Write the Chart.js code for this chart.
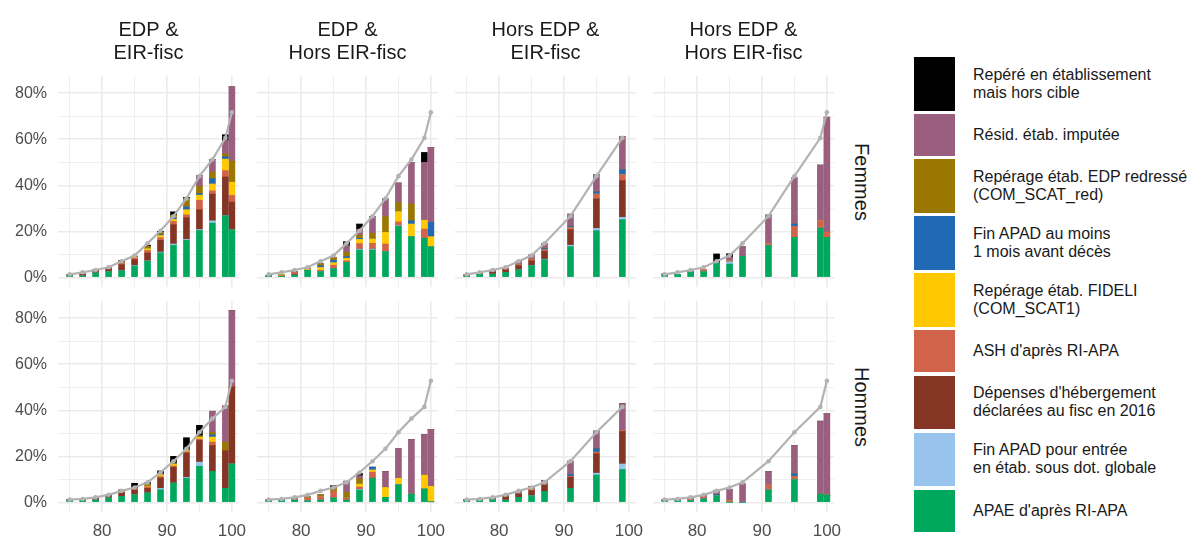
<!DOCTYPE html>
<html>
<head>
<meta charset="utf-8">
<script src="https://cdn.jsdelivr.net/npm/chart.js@4.4.1/dist/chart.umd.min.js"></script>
<style>
    body { margin: 0; background: #fff; width: 1198px; height: 541px; overflow: hidden; position: relative;
           font-family: "Liberation Sans", Arial, sans-serif; }
    canvas { position: absolute; }
    .strip { position: absolute; writing-mode: vertical-rl; font-size: 20px; color: #1a1a1a;
             transform: translate(-50%, -50%); white-space: nowrap; }
    #legende { position: absolute; left: 914px; top: 57px; display: flex; flex-direction: column; gap: 3.3px; }
    .item { display: flex; align-items: center; }
    .cle { width: 41px; }
    .lib { margin-left: 18px; font-size: 16px; line-height: 18px; white-space: pre-line; color: #1a1a1a; }
</style>
</head>
<body>
<div id="legende"></div>
<script>
// Catégories, de bas en haut de la pile
const categories = [
    "APAE d'après RI-APA",
    "Fin APAD pour entrée\nen étab. sous dot. globale",
    "Dépenses d'hébergement\ndéclarées au fisc en 2016",
    "ASH d'après RI-APA",
    "Repérage étab. FIDELI\n(COM_SCAT1)",
    "Fin APAD au moins\n1 mois avant décès",
    "Repérage étab. EDP redressé\n(COM_SCAT_red)",
    "Résid. étab. imputée",
    "Repéré en établissement\nmais hors cible"
];
const couleurs = ['#00A85E', '#98C3EC', '#843524', '#D0634A', '#FFC800', '#1F69B5', '#9A7700', '#9A5E7E', '#000000'];

const colonnes = [['EDP &', 'EIR-fisc'], ['EDP &', 'Hors EIR-fisc'], ['Hors EDP &', 'EIR-fisc'], ['Hors EDP &', 'Hors EIR-fisc']];
const sexes = ['Femmes', 'Hommes'];

const agesEdp = [75, 77, 79, 81, 83, 85, 87, 89, 91, 93, 95, 97, 99, 100];
const agesHorsEir = [75, 77, 79, 81, 83, 85, 87, 91, 95, 99];
const agesHors = [75, 77, 79, 81, 83, 85, 87, 91, 95, 99, 100];

// courbe de référence (%), aux âges de agesEdp
const refFemmes = [1.3, 2.2, 3.2, 4.4, 7.0, 9.5, 14.8, 20.3, 26.6, 34.3, 44.0, 51.2, 60.6, 71.7];
const refHommes = [1.2, 1.5, 2.2, 3.3, 5.0, 6.5, 8.7, 13.0, 17.9, 23.3, 30.5, 36.4, 41.5, 52.8];

// graduations (lignes de grille) et libellés affichés
const xGraduations = [75, 80, 85, 90, 95, 100];
const yGraduations = [0, 10, 20, 30, 40, 50, 60, 70, 80];
const xTicksLabels = [80, 90, 100];
const yTicksLabels = [0, 20, 40, 60, 80];

// parts en %, une ligne par catégorie (même ordre que categories)
const femEdpEir = [
    [0.8, 0.6, 1.9, 2.5, 2.9, 5.0, 7.0, 10.7, 13.9, 16.1, 20.4, 23.6, 26.8, 20.7],
    [0, 0, 0, 0, 0, 0.2, 0.2, 0.3, 0.6, 0.4, 0.4, 1.0, 0, 0],
    [0.3, 0.8, 1.3, 1.1, 2.6, 2.5, 3.4, 5.1, 8.4, 9.4, 8.6, 11.6, 16.8, 12.0],
    [0, 0, 0, 0.5, 0.7, 0.7, 1.1, 1.1, 1.4, 1.3, 4.1, 1.4, 2.8, 2.9],
    [0, 0, 0, 0, 0, 0.3, 0.8, 1.0, 0.9, 2.2, 2.2, 3.0, 5.0, 5.8],
    [0, 0, 0, 0, 0, 0, 0, 0.4, 0.7, 1.2, 0.7, 2.3, 1.0, 0],
    [0, 0, 0, 0, 0.5, 0.5, 1.0, 1.0, 1.1, 3.6, 3.2, 2.8, 1.3, 9.1],
    [0, 0, 0, 0, 0, 0, 0, 0, 0, 0, 4.7, 5.6, 5.8, 32.3],
    [0, 0, 0, 0, 0.6, 0, 0.5, 0.4, 1.5, 0.6, 0, 0, 2.5, 0]
];
const femEdpHorsEir = [
    [0.6, 0.5, 1.0, 3.1, 2.5, 3.8, 6.5, 11.9, 11.9, 11.2, 22.2, 17.7, 17.0, 13.3],
    [0, 0, 0, 0, 0, 0, 0, 0.4, 0.4, 0, 0.3, 0, 0, 0],
    [0, 0, 0.4, 0, 0, 0, 0, 0, 0, 0, 0, 0, 0, 0],
    [0.3, 0.3, 0.8, 0, 0.6, 1.5, 0.7, 2.4, 2.5, 3.3, 1.6, 0, 4.0, 0],
    [0, 0.4, 0, 0.4, 1.2, 1.1, 1.1, 1.8, 1.9, 5.1, 4.5, 5.5, 3.9, 4.4],
    [0, 0, 0, 0, 0.7, 1.0, 0.7, 0.5, 0, 0, 0, 1.4, 0, 6.2],
    [0, 0, 0.3, 0.5, 1.0, 1.2, 1.9, 1.4, 2.5, 6.8, 4.0, 7.3, 0, 0],
    [0, 0, 0, 0, 0, 0, 2.9, 2.5, 7.2, 7.7, 8.4, 18.1, 25.1, 32.6],
    [0, 0, 0, 0, 0, 0, 1.8, 2.3, 0, 0, 0, 0, 4.3, 0]
];
const femHorsEdpEir = [
    [0.6, 1.4, 1.4, 2.2, 3.3, 5.1, 7.7, 13.4, 20.3, 25.1],
    [0, 0, 0, 0, 0, 0, 0.2, 0.6, 1.0, 1.0],
    [0, 0.2, 1.0, 1.1, 1.8, 2.1, 3.4, 6.7, 12.8, 15.9],
    [0.5, 0, 0, 0, 0.3, 0.6, 0.6, 0.9, 2.1, 2.6],
    [0, 0, 0, 0, 0, 0, 0, 0, 0, 0],
    [0, 0, 0, 0, 0, 0, 0.6, 0.6, 1.0, 2.2],
    [0, 0, 0, 0, 0, 0, 0, 0, 0, 0],
    [0, 0, 0.7, 0.7, 1.6, 1.9, 2.3, 5.3, 7.4, 14.4],
    [0, 0, 0, 0, 0, 0, 0, 0, 0, 0]
];
const femHorsEdpHorsEir = [
    [1.3, 1.3, 2.4, 2.5, 6.2, 5.8, 9.1, 13.8, 17.4, 21.4, 17.4],
    [0, 0, 0, 0, 0, 1.0, 0, 0, 0, 0, 0],
    [0, 0, 0, 0, 0, 0, 0, 0, 0, 0, 0],
    [0, 0, 0.3, 0.8, 0, 0.4, 0, 0.8, 4.8, 3.2, 2.2],
    [0, 0, 0, 0, 0, 0, 0, 0, 0, 0, 0],
    [0, 0, 0, 0, 0, 0, 0, 0, 1.0, 0, 0],
    [0, 0, 0, 0, 0, 0, 0, 0, 0, 0, 0],
    [0.2, 0, 0, 0, 0, 1.5, 4.2, 12.5, 20.0, 24.2, 50.0],
    [0, 0, 0, 0, 4.0, 1.6, 0, 0, 0, 0, 0]
];
const homEdpEir = [
    [1.0, 1.2, 1.0, 1.9, 2.6, 3.3, 4.1, 5.5, 8.4, 10.5, 15.7, 13.5, 6.1, 16.7],
    [0, 0, 0, 0, 0, 0, 0, 0.6, 0, 0.4, 1.8, 0, 0, 0],
    [0.2, 0.2, 1.2, 1.3, 1.8, 2.1, 2.0, 4.5, 6.8, 10.6, 9.4, 11.2, 16.4, 33.5],
    [0, 0, 0, 0.3, 0.4, 0.6, 0.7, 0.6, 0.6, 0.4, 0.6, 1.5, 0, 0],
    [0, 0, 0, 0, 0, 0, 0.3, 0.8, 0.8, 0.5, 0.8, 2.2, 0, 0],
    [0, 0, 0, 0, 0, 0, 0, 0, 0, 0, 0, 1.0, 0, 0],
    [0, 0, 0, 0, 0, 0, 0.9, 0.3, 0.3, 0.5, 0.6, 1.1, 3.7, 0],
    [0, 0, 0, 0, 0, 0, 0, 0, 0, 0, 0, 9.1, 15.7, 33.1],
    [0, 0, 0, 0, 0.6, 2.3, 0.7, 1.4, 3.1, 5.2, 4.6, 0, 0, 0]
];
const homEdpHorsEir = [
    [0.8, 1.2, 1.0, 0.7, 1.0, 1.9, 1.0, 5.4, 10.5, 2.2, 7.7, 3.6, 5.8, 0.3],
    [0, 0, 0, 0, 0, 0, 0, 0.3, 0, 0, 0, 0, 0, 0],
    [0, 0, 0, 0, 0, 0, 0, 0, 0, 0, 0, 0, 0, 0],
    [0.4, 0, 0.5, 1.2, 1.5, 3.0, 0.9, 1.0, 2.6, 0, 0, 0, 0, 0],
    [0, 0, 0, 0, 0, 0, 0, 1.3, 1.0, 4.3, 2.8, 0, 6.1, 6.7],
    [0, 0, 0, 0, 0, 0, 0, 0, 1.2, 0, 0, 0, 0, 0],
    [0, 0, 0, 0.5, 0.8, 1.5, 2.5, 2.2, 0, 0, 0, 0, 0, 0],
    [0, 0, 0, 0, 0, 0.3, 4.8, 1.4, 0, 6.9, 12.8, 23.7, 17.5, 24.7],
    [0, 0, 0, 0, 0, 0.6, 0, 1.0, 0, 0, 0, 0, 0, 0]
];
const homHorsEdpEir = [
    [1.0, 1.0, 1.2, 1.0, 2.2, 2.9, 4.8, 6.1, 11.9, 14.3],
    [0, 0, 0, 0, 0, 0, 0, 0, 0.8, 2.4],
    [0, 0.2, 0.4, 1.5, 1.4, 2.2, 2.9, 4.8, 8.4, 14.1],
    [0, 0, 0, 0, 0, 0.4, 0.6, 0.4, 0.7, 0.5],
    [0, 0, 0, 0, 0, 0, 0, 0, 0, 0],
    [0, 0, 0, 0, 0, 0, 0, 0.8, 1.5, 0],
    [0, 0, 0, 0, 0, 0, 0, 0, 0, 0],
    [0.3, 0, 0, 0.6, 1.1, 1.3, 1.2, 5.8, 7.7, 11.6],
    [0, 0, 0, 0, 0, 0, 0, 0, 0, 0]
];
const homHorsEdpHorsEir = [
    [0.8, 0.8, 0.8, 1.5, 2.9, 0, 0, 5.4, 9.9, 3.6, 3.2],
    [0, 0, 0, 0, 0, 0, 0, 0, 0, 0, 0],
    [0, 0, 0, 0, 0, 0, 0, 0, 0, 0, 0],
    [0.4, 0.4, 0.6, 0.7, 0, 0.7, 0, 2.2, 1.4, 0, 0],
    [0, 0, 0, 0, 0, 0, 0, 0, 0, 0, 0],
    [0, 0, 0, 0, 0.5, 0, 0, 0, 1.1, 0, 0],
    [0, 0, 0, 0, 0, 0, 0, 0, 0, 0, 0],
    [0, 0, 0.3, 0.7, 1.7, 5.0, 8.0, 5.8, 12.3, 31.7, 35.3],
    [0, 0, 0, 0, 0, 0, 0, 0, 0, 0, 0]
];

const panneaux = [
    { ligne: 0, col: 0, ages: agesEdp, parts: femEdpEir, ref: refFemmes },
    { ligne: 0, col: 1, ages: agesEdp, parts: femEdpHorsEir, ref: refFemmes },
    { ligne: 0, col: 2, ages: agesHorsEir, parts: femHorsEdpEir, ref: refFemmes },
    { ligne: 0, col: 3, ages: agesHors, parts: femHorsEdpHorsEir, ref: refFemmes },
    { ligne: 1, col: 0, ages: agesEdp, parts: homEdpEir, ref: refHommes },
    { ligne: 1, col: 1, ages: agesEdp, parts: homEdpHorsEir, ref: refHommes },
    { ligne: 1, col: 2, ages: agesHorsEir, parts: homHorsEdpEir, ref: refHommes },
    { ligne: 1, col: 3, ages: agesHors, parts: homHorsEdpHorsEir, ref: refHommes }
];

// mise en page
const gauches = [58, 257, 455, 653];
const hauts = [76, 301];
const largeur = 181, hauteur = 211;
const axeY = 58, axeX = 30, titreH = 76, margeDroite = 14;
const gris = '#4D4D4D';
const grille = '#EBEBEB';
const police = '"Liberation Sans", Arial, sans-serif';

// on neutralise les marges automatiques des axes
function fixerAxe(s, taille) {
    if (s.isHorizontal()) s.height = taille; else s.width = taille;
    s.paddingLeft = 0;
    s.paddingRight = 0;
    s.paddingTop = 0;
    s.paddingBottom = 0;
}

function creerPanneau(p) {
    const avecY = p.col === 0;
    const avecX = p.ligne === 1;
    const avecTitre = p.ligne === 0;
    const canvas = document.createElement('canvas');
    const w = largeur + (avecY ? axeY : 0) + margeDroite;
    const h = hauteur + (avecX ? axeX : 0) + (avecTitre ? titreH : 0);
    canvas.width = w;
    canvas.height = h;
    canvas.style.left = (gauches[p.col] - (avecY ? axeY : 0)) + 'px';
    canvas.style.top = (hauts[p.ligne] - (avecTitre ? titreH : 0)) + 'px';
    document.body.appendChild(canvas);

    const datasets = categories.map((cat, k) => ({
        type: 'bar',
        label: cat,
        data: p.ages.map((a, i) => ({ x: a, y: p.parts[k][i] / 100 })),
        backgroundColor: couleurs[k],
        borderWidth: 0,
        barThickness: 6,
        stack: 'pile',
        order: 1
    }));
    datasets.push({
        type: 'line',
        label: 'référence',
        data: p.ages.map(a => ({ x: a, y: p.ref[agesEdp.indexOf(a)] / 100 })),
        borderColor: '#B3B3B3',
        backgroundColor: '#B3B3B3',
        borderWidth: 2.2,
        pointRadius: 2.3,
        pointBorderWidth: 0,
        tension: 0,
        order: 0
    });

    new Chart(canvas, {
        data: { datasets },
        options: {
            responsive: false,
            animation: false,
            events: [],
            layout: { padding: { left: 0, top: 0, bottom: 0, right: margeDroite }, autoPadding: false },
            plugins: {
                legend: { display: false },
                tooltip: { enabled: false },
                title: {
                    display: avecTitre,
                    text: colonnes[p.col],
                    fullSize: false,
                    color: '#1a1a1a',
                    font: { family: police, size: 20, weight: 'normal', lineHeight: 1.15 },
                    padding: { top: 19, bottom: 11 }
                }
            },
            scales: {
                x: {
                    type: 'linear',
                    min: 73.2,
                    max: 101.1,
                    bounds: 'data',
                    offset: false,
                    border: { display: false },
                    grid: {
                        offset: false,
                        drawTicks: false,
                        color: grille,
                        lineWidth: c => (c.tick && xTicksLabels.includes(c.tick.value)) ? 1.6 : 0.8
                    },
                    ticks: {
                        display: avecX,
                        autoSkip: false,
                        maxRotation: 0,
                        padding: 9,
                        color: gris,
                        font: { family: police, size: 17 },
                        callback: v => xTicksLabels.includes(v) ? String(v) : ''
                    },
                    afterBuildTicks: s => { s.ticks = xGraduations.map(v => ({ value: v })); },
                    afterFit: s => fixerAxe(s, avecX ? axeX : 0)
                },
                y: {
                    min: -0.0417,
                    max: 0.875,
                    bounds: 'data',
                    border: { display: false },
                    grid: {
                        drawTicks: false,
                        color: grille,
                        lineWidth: c => (c.tick && yTicksLabels.includes(Math.round(c.tick.value * 100))) ? 1.6 : 0.8
                    },
                    ticks: {
                        display: avecY,
                        autoSkip: false,
                        padding: 11,
                        color: gris,
                        font: { family: police, size: 16 },
                        callback: v => {
                            const pct = Math.round(v * 100);
                            return yTicksLabels.includes(pct) ? pct + '%' : '';
                        }
                    },
                    afterBuildTicks: s => { s.ticks = yGraduations.map(v => ({ value: v / 100 })); },
                    afterFit: s => fixerAxe(s, avecY ? axeY : 0)
                }
            }
        }
    });
}

panneaux.forEach(creerPanneau);

// étiquettes de lignes (Femmes / Hommes)
sexes.forEach((s, i) => {
    const d = document.createElement('div');
    d.className = 'strip';
    d.textContent = s;
    d.style.left = '861px';
    d.style.top = (hauts[i] + hauteur / 2) + 'px';
    document.body.appendChild(d);
});

// légende (ordre inverse de la pile)
const legende = document.getElementById('legende');
for (let k = categories.length - 1; k >= 0; k--) {
    const deuxLignes = categories[k].includes('\n');
    const item = document.createElement('div');
    item.className = 'item';
    const cle = document.createElement('div');
    cle.className = 'cle';
    cle.style.height = (deuxLignes ? 53.7 : 42) + 'px';
    cle.style.background = couleurs[k];
    const lib = document.createElement('div');
    lib.className = 'lib';
    lib.textContent = categories[k];
    item.appendChild(cle);
    item.appendChild(lib);
    legende.appendChild(item);
}
</script>
</body>
</html>
